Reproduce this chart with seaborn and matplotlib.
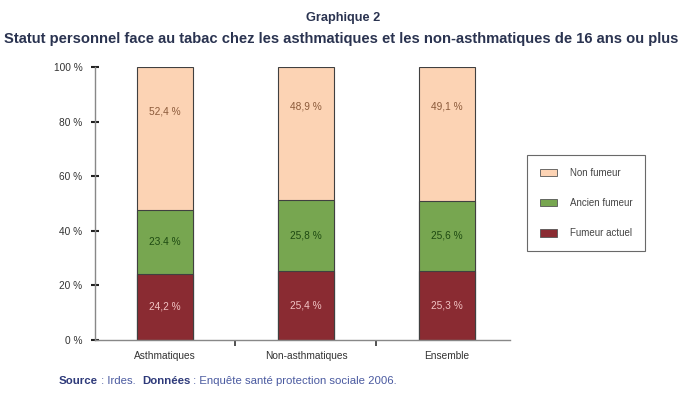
import matplotlib
matplotlib.use("Agg")
import matplotlib.pyplot as plt
import seaborn as sns
import pandas as pd
import numpy as np
from matplotlib.patches import Patch

categories = ["Asthmatiques", "Non-asthmatiques", "Ensemble"]
fumeur_actuel = [24.2, 25.4, 25.3]
ancien_fumeur = [23.4, 25.8, 25.6]
non_fumeur = [52.4, 48.9, 49.1]
labels_fumeur = ["24,2 %", "25,4 %", "25,3 %"]
labels_ancien = ["23.4 %", "25,8 %", "25,6 %"]
labels_non = ["52,4 %", "48,9 %", "49,1 %"]
yticks = [0, 20, 40, 60, 80, 100]
ytick_labels = ["0 %", "20 %", "40 %", "60 %", "80 %", "100 %"]

sns.set_style("white")
plt.rcParams['font.family'] = ['Liberation Sans', 'DejaVu Sans']

c_non = "#FCD3B4"
c_anc = "#77A650"
c_fum = "#8A2B32"

df = pd.DataFrame({"cat": categories,
                   "fum": fumeur_actuel,
                   "anc": ancien_fumeur,
                   "non": non_fumeur})
df["cum_anc"] = df["fum"] + df["anc"]
df["cum_non"] = np.minimum(df["cum_anc"] + df["non"], 100)

fig = plt.figure(figsize=(6.86, 4.03), dpi=100)
ax = fig.add_axes([95/686, 1-340/403, 415/686, 273/403])

kw = dict(width=0.4, edgecolor="#404040", linewidth=0.8, ax=ax, order=categories)
sns.barplot(data=df, x="cat", y="cum_non", color=c_non, saturation=1, **kw)
sns.barplot(data=df, x="cat", y="cum_anc", color=c_anc, saturation=1, **kw)
sns.barplot(data=df, x="cat", y="fum", color=c_fum, saturation=1, **kw)

for i in range(len(categories)):
    ax.text(i, df["fum"][i]/2, labels_fumeur[i], ha="center", va="center",
            fontsize=7.3, color="#F2C4C4")
    ax.text(i, df["fum"][i] + df["anc"][i]/2, labels_ancien[i], ha="center", va="center",
            fontsize=7.3, color="#1E4A12")
    ax.text(i, (df["cum_anc"][i] + df["cum_non"][i])/2 + 10, labels_non[i], ha="center", va="center",
            fontsize=7.3, color="#8B5A3A")

ax.set_xlim(-0.496, 2.447)
ax.set_ylim(0, 100)
ax.set_yticks(yticks)
ax.set_yticklabels(ytick_labels, fontsize=7.3, color="#333333")
ax.set_xticks(range(len(categories)))
ax.set_xticklabels(categories, fontsize=7.3, color="#333333")
ax.set_xticks([0.5, 1.5], minor=True)
ax.set_xlabel("")
ax.set_ylabel("")
for s in ["top", "right"]:
    ax.spines[s].set_visible(False)
for s in ["left", "bottom"]:
    ax.spines[s].set_color("#888888")
    ax.spines[s].set_linewidth(1.0)
ax.tick_params(axis="y", left=True, length=6, width=1.5, color="#222222",
               direction="inout", pad=6)
ax.tick_params(axis="x", which="major", bottom=False, length=0, pad=8)
ax.tick_params(axis="x", which="minor", bottom=True, length=4, width=1.2,
               color="#333333", direction="out")

handles = [Patch(facecolor=c_non, edgecolor="#555555", linewidth=0.6, label="Non fumeur"),
           Patch(facecolor=c_anc, edgecolor="#555555", linewidth=0.6, label="Ancien fumeur"),
           Patch(facecolor=c_fum, edgecolor="#555555", linewidth=0.6, label="Fumeur actuel")]
leg = fig.legend(handles=handles, loc="upper left", bbox_to_anchor=(527/686, 1-155/403),
                 fontsize=7.0, frameon=True, fancybox=False, edgecolor="#444444",
                 handlelength=1.8, handleheight=0.8, labelspacing=2.1,
                 borderpad=1.3, handletextpad=1.3, borderaxespad=0)
leg.get_frame().set_linewidth(0.8)
for t in leg.get_texts():
    t.set_color("#444444")

fig.text(0.5, 1-18/403, "Graphique 2", ha="center", va="center",
         fontsize=9.2, fontweight="bold", color="#2A3350")
fig.text(4/686, 1-39/403,
         "Statut personnel face au tabac chez les asthmatiques et les non-asthmatiques de 16 ans ou plus",
         ha="left", va="center", fontsize=10.6, fontweight="bold", color="#2A3350")

# source line, chained pieces
pieces = [("Source", "bold", "#2E3A7A"), (" : Irdes.  ", "normal", "#4A5AA0"),
          ("Données", "bold", "#2E3A7A"),
          (" : Enquête santé protection sociale 2006.", "normal", "#4A5AA0")]
fig.canvas.draw()
r = fig.canvas.get_renderer()
x = 59
for txt, w, col in pieces:
    t = fig.text(x/686, 1-381/403, txt, ha="left", va="center", fontsize=8.2,
                 fontweight=w, color=col)
    bb = t.get_window_extent(renderer=r)
    x += bb.width

fig.savefig("out.png", dpi=100, facecolor="white")
